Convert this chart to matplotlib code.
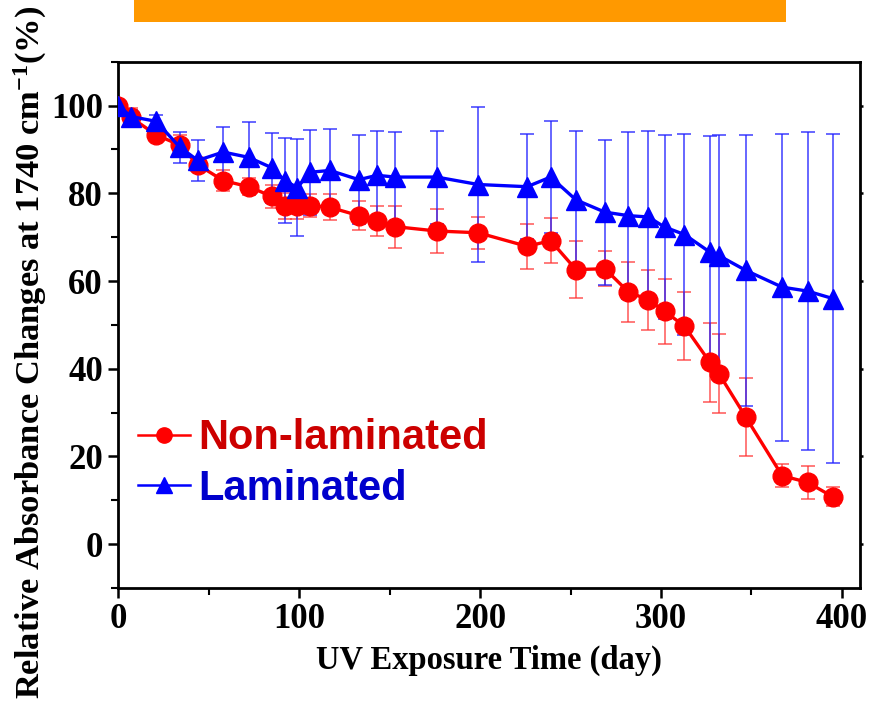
import matplotlib
matplotlib.use("Agg")
import matplotlib.pyplot as plt
from matplotlib.patches import Rectangle
from matplotlib.ticker import MultipleLocator

plt.rcParams['mathtext.fontset'] = 'custom'
plt.rcParams['mathtext.rm'] = 'Liberation Serif:bold'
plt.rcParams['mathtext.it'] = 'Liberation Serif:bold'
plt.rcParams['mathtext.bf'] = 'Liberation Serif:bold'

days = [0, 7, 21, 34, 44, 58, 72, 85, 92, 99, 106, 117, 133, 143, 153, 176, 199,
        226, 239, 253, 269, 282, 293, 302, 313, 327, 332, 347, 367, 381, 395]

non_laminated = [100, 97.3, 93.3, 91.0, 86.5, 82.9, 81.5, 79.3, 77.1, 77.2, 77.2, 76.8,
                 74.9, 73.6, 72.4, 71.4, 71.0, 67.9, 69.2, 62.6, 62.8, 57.5, 55.7, 53.1,
                 49.7, 41.5, 38.9, 28.9, 15.6, 14.1, 10.8]
non_laminated_err = [0.5, 2.2, 1.2, 2.4, 1.5, 2.3, 2.0, 2.6, 3.0, 3.0, 2.6, 3.0,
                     3.3, 3.4, 4.8, 5.0, 3.7, 5.2, 5.1, 6.5, 4.0, 6.8, 6.9, 7.4,
                     7.8, 9.0, 9.0, 8.9, 2.6, 3.7, 2.2]

laminated = [100, 97.5, 96.4, 90.5, 87.5, 89.4, 88.2, 85.8, 82.9, 81.3, 84.8, 85.2,
             83.1, 84.1, 83.7, 83.7, 82.0, 81.5, 83.7, 78.5, 75.7, 74.9, 74.6, 72.3,
             70.6, 66.6, 65.8, 62.4, 58.6, 57.7, 56.0]
laminated_err = [0, 1.5, 1.5, 3.5, 4.6, 5.8, 8.0, 8.0, 9.7, 11.0, 9.7, 9.4,
                 10.2, 10.2, 10.2, 10.6, 17.7, 12.0, 12.8, 15.6, 16.5, 19.0, 19.6, 21.0,
                 23.0, 26.5, 27.5, 31.0, 35.0, 36.3, 37.5]

x_ticks = [0, 100, 200, 300, 400]
y_ticks = [0, 20, 40, 60, 80, 100]

fig = plt.figure(figsize=(8.69, 7.06), dpi=100)
ax = fig.add_axes([0.1361, 0.1671, 0.8535, 0.7455])

# orange title banner (cropped at top)
fig.patches.append(Rectangle((134 / 869, 1 - 22 / 706), (786 - 134) / 869, 22 / 706,
                             transform=fig.transFigure, facecolor='#FF9900',
                             edgecolor='none', zorder=0))

ax.errorbar(days, non_laminated, yerr=non_laminated_err, fmt='none',
            ecolor='#FF3030', elinewidth=1.2, capsize=5, capthick=1.2, alpha=0.75, zorder=2)
ax.errorbar(days, laminated, yerr=laminated_err, fmt='none',
            ecolor='#2020FF', elinewidth=1.2, capsize=5, capthick=1.2, alpha=0.8, zorder=2)

ax.plot(days, non_laminated, color='#FF0000', lw=2.4, marker='o', ms=13.5,
        mec='#FF0000', mfc='#FF0000', zorder=3)
ax.plot(days, laminated, color='#0000FF', lw=2.4, marker='^', ms=14,
        mec='#0000FF', mfc='#0000FF', zorder=4)

ax.set_xlim(0, 410)
ax.set_ylim(-10, 110)
ax.set_xticks(x_ticks)
ax.set_yticks(y_ticks)
ax.xaxis.set_minor_locator(MultipleLocator(50))
ax.yaxis.set_minor_locator(MultipleLocator(10))

for s in ax.spines.values():
    s.set_linewidth(2.0)

ax.tick_params(axis='both', which='major', direction='out', length=7, width=1.8,
               labelsize=25, pad=4)
ax.tick_params(axis='both', which='minor', direction='out', length=5, width=1.5)
ax.tick_params(axis='y', which='major', right=True, direction='out')
ax.yaxis.set_tick_params(which='major', right=True)
for t in ax.yaxis.get_major_ticks():
    t.tick2line.set_markersize(2.5)

for lbl in ax.get_xticklabels() + ax.get_yticklabels():
    lbl.set_fontfamily('Liberation Serif')
    lbl.set_fontweight('bold')

ax.set_xlabel('UV Exposure Time (day)', fontsize=23.5, fontfamily='Liberation Serif',
              fontweight='bold', labelpad=6)

fig.text(30 / 869, 1 - 352 / 706,
         'Relative Absorbance Changes at 1740 cm$^{-1}$(%)',
         rotation=90, ha='center', va='center', fontsize=24.8,
         fontfamily='Liberation Serif', fontweight='bold')

# legend
h1, = ax.plot([], [], color='#FF0000', lw=1.8, marker='o', ms=11)
h2, = ax.plot([], [], color='#0000FF', lw=1.8, marker='^', ms=12)
leg = ax.legend([h1, h2], ['Non-laminated', 'Laminated'], loc='lower left',
                bbox_to_anchor=(0.027, 0.15), frameon=False, handlelength=1.25,
                handletextpad=0.2, labelspacing=0.26, borderpad=0, borderaxespad=0,
                prop={'family': 'Liberation Sans', 'weight': 'bold', 'size': 30})
leg.get_texts()[0].set_color('#CC0000')
leg.get_texts()[1].set_color('#0000CC')

fig.savefig('out.png', dpi=100)
